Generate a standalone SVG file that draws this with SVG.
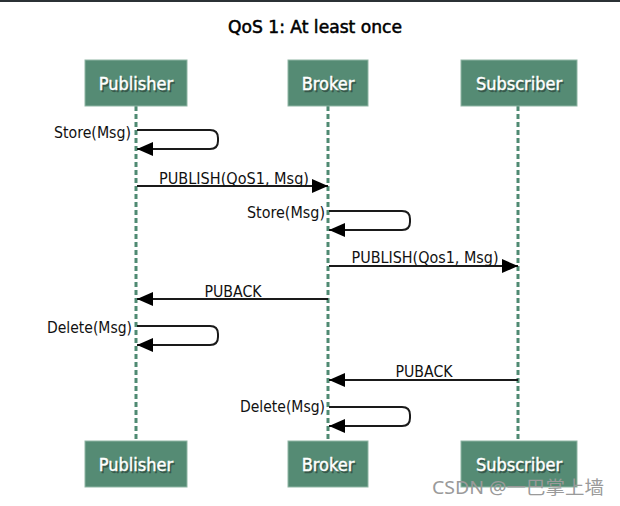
<svg xmlns="http://www.w3.org/2000/svg" width="620" height="506" viewBox="0 0 620 506">
<defs>
<style>
.box{fill:#558b74;stroke:#8fb5a4;stroke-width:1}
.bt{font-family:"DejaVu Sans Condensed","DejaVu Sans",sans-serif;font-size:18px;fill:#fff;stroke:#fff;stroke-width:0.4;text-anchor:middle}
.sh{font-family:"DejaVu Sans Condensed","DejaVu Sans",sans-serif;font-size:18px;fill:#1f2e28;stroke:#1f2e28;stroke-width:0.4;text-anchor:middle;opacity:0.55}
.life{stroke:#4f8a72;stroke-width:3;stroke-dasharray:5,3;fill:none}
.msg{stroke:#1a1a1a;stroke-width:2;fill:none}
.lbl{font-family:"DejaVu Sans Condensed","DejaVu Sans",sans-serif;font-size:15px;fill:#111}
.r{text-anchor:end}
.m{text-anchor:middle}
</style>
<marker id="ah" markerWidth="16" markerHeight="14" refX="16" refY="7" orient="auto" markerUnits="userSpaceOnUse">
<path d="M0,0 L16,7 L0,14 Z" fill="#000"/>
</marker>
</defs>
<rect x="0" y="0" width="620" height="506" fill="#fff"/>
<rect x="0" y="0" width="620" height="2" fill="#2b3135"/>
<text x="315" y="33" font-family="DejaVu Sans Condensed,DejaVu Sans,sans-serif" font-size="18" fill="#000" stroke="#000" stroke-width="0.5" text-anchor="middle" textLength="174" lengthAdjust="spacingAndGlyphs">QoS 1: At least once</text>
<g id="lifelines">
<line class="life" x1="136" y1="106" x2="136" y2="441"/>
<line class="life" x1="328" y1="106" x2="328" y2="441"/>
<line class="life" x1="518" y1="106" x2="518" y2="441"/>
</g>
<g id="publisher-top"><rect class="box" x="85" y="60" width="102" height="46"/><text class="sh" x="137.5" y="91.5">Publisher</text><text class="bt" x="136" y="90">Publisher</text></g>
<g id="broker-top"><rect class="box" x="288" y="60" width="80" height="46"/><text class="sh" x="329.5" y="91.5">Broker</text><text class="bt" x="328" y="90">Broker</text></g>
<g id="subscriber-top"><rect class="box" x="461" y="60" width="116" height="46"/><text class="sh" x="520.5" y="91.5">Subscriber</text><text class="bt" x="519" y="90">Subscriber</text></g>
<g id="publisher-bottom"><rect class="box" x="85" y="441" width="102" height="46"/><text class="sh" x="137.5" y="472.5">Publisher</text><text class="bt" x="136" y="471">Publisher</text></g>
<g id="broker-bottom"><rect class="box" x="288" y="441" width="80" height="46"/><text class="sh" x="329.5" y="472.5">Broker</text><text class="bt" x="328" y="471">Broker</text></g>
<g id="subscriber-bottom"><rect class="box" x="461" y="441" width="116" height="46"/><text class="sh" x="520.5" y="472.5">Subscriber</text><text class="bt" x="519" y="471">Subscriber</text></g>
<g id="connectors">
<path class="msg" d="M137,130 H210 Q218,130 218,138 V141 Q218,149 210,149 H137" marker-end="url(#ah)"/>
<line class="msg" x1="137" y1="186" x2="328" y2="186" marker-end="url(#ah)"/>
<path class="msg" d="M329,211 H402 Q410,211 410,219 V222 Q410,230 402,230 H329" marker-end="url(#ah)"/>
<line class="msg" x1="329" y1="266" x2="518" y2="266" marker-end="url(#ah)"/>
<line class="msg" x1="328" y1="299" x2="137" y2="299" marker-end="url(#ah)"/>
<path class="msg" d="M137,326 H210 Q218,326 218,334 V337 Q218,345 210,345 H137" marker-end="url(#ah)"/>
<line class="msg" x1="518" y1="380" x2="329" y2="380" marker-end="url(#ah)"/>
<path class="msg" d="M329,407 H402 Q410,407 410,415 V418 Q410,426 402,426 H329" marker-end="url(#ah)"/>
</g>
<g id="labels">
<text class="lbl r" x="131" y="138" textLength="77" lengthAdjust="spacingAndGlyphs">Store(Msg)</text>
<text class="lbl m" x="234" y="184" textLength="150" lengthAdjust="spacingAndGlyphs">PUBLISH(QoS1, Msg)</text>
<text class="lbl r" x="325" y="218" textLength="78" lengthAdjust="spacingAndGlyphs">Store(Msg)</text>
<text class="lbl m" x="425" y="263" textLength="147" lengthAdjust="spacingAndGlyphs">PUBLISH(Qos1, Msg)</text>
<text class="lbl m" x="233" y="297" textLength="57" lengthAdjust="spacingAndGlyphs">PUBACK</text>
<text class="lbl r" x="132" y="333" textLength="85" lengthAdjust="spacingAndGlyphs">Delete(Msg)</text>
<text class="lbl m" x="424" y="377" textLength="57" lengthAdjust="spacingAndGlyphs">PUBACK</text>
<text class="lbl r" x="325" y="412" textLength="85" lengthAdjust="spacingAndGlyphs">Delete(Msg)</text>
</g>
<text x="432" y="494" font-family="Noto Sans,Noto Sans CJK SC,sans-serif" font-size="18" fill="#9a9a9a" textLength="172" lengthAdjust="spacingAndGlyphs">CSDN @一巴掌上墙</text>
</svg>
